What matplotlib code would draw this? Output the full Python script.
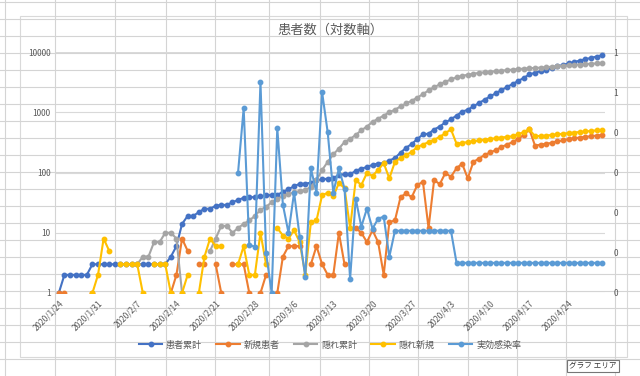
import numpy as np
import matplotlib
matplotlib.use("Agg")
import matplotlib.pyplot as plt
from matplotlib.lines import Line2D
from matplotlib.patches import Rectangle

plt.rcParams['font.family'] = ['Noto Sans CJK JP', 'DejaVu Sans']

# --- data (1/24 .. 4/30, one value per day) ---
nan = np.nan
tick_labels = ["2020/1/24", "2020/1/31", "2020/2/7", "2020/2/14", "2020/2/21",
               "2020/2/28", "2020/3/6", "2020/3/13", "2020/3/20", "2020/3/27",
               "2020/4/3", "2020/4/10", "2020/4/17", "2020/4/24"]

kanja_ruikei = [1, 2, 2, 2, 2, 2, 3, 3, 3, 3, 3, 3, 3, 3, 3, 3, 3, 3, 3, 3,
                4, 6, 14, 19, 19, 22, 25, 25, 28, 29, 29, 32, 35, 38, 39, 39, 40, 42, 42, 43,
                47, 53, 59, 65, 65, 68, 74, 77, 79, 81, 91, 94, 94, 106, 116, 123, 134, 141, 143, 158,
                174, 213, 258, 297, 359, 429, 441, 516, 580, 678, 763, 881, 1021, 1101, 1251, 1421, 1616, 1831, 2066, 2331,
                2621, 2941, 3301, 3721, 4241, 4521, 4811, 5111, 5421, 5751, 6091, 6451, 6821, 7201, 7591, 7991, 8401, 8821]

shinki = [1, 1, nan, nan, nan, nan, 1, nan, nan, nan, nan, nan, nan, nan, nan, nan, nan, nan, nan, nan,
          1, 2, 8, 5, nan, 3, 3, nan, 3, 1, nan, 3, 3, 3, 1, nan, 1, 2, nan, 1,
          4, 6, 6, 6, nan, 3, 6, 3, 2, 2, 10, 3, nan, 12, 10, 7, 11, 7, 2, 15,
          16, 39, 45, 39, 62, 70, 12, 75, 64, 98, 85, 118, 140, 80, 150, 170, 195, 215, 235, 265,
          290, 320, 360, 420, 520, 280, 290, 300, 310, 330, 340, 360, 370, 380, 390, 400, 410, 420]

kakure_ruikei = [nan, nan, nan, nan, nan, nan, nan, nan, nan, nan, nan, nan, nan, nan, 3, 4, 4, 7, 7, 10,
                 10, 8, 1, nan, nan, nan, nan, 5, 8, 13, 13, 10, 12, 14, 16, 19, 24, 27, 32, 36,
                 41, 44, 47, 49, 51, 58, 75, 110, 150, 200, 250, 320, 360, 420, 500, 580, 690, 780, 880, 1000,
                 1100, 1250, 1400, 1550, 1750, 2000, 2300, 2600, 2900, 3200, 3500, 3800, 4000, 4200, 4350, 4500, 4600, 4700, 4800, 4900,
                 5000, 5100, 5200, 5300, 5350, 5450, 5500, 5600, 5700, 5800, 5900, 6000, 6100, 6200, 6300, 6400, 6450, 6500]

kakure_shinki = [nan, nan, nan, nan, nan, nan, 1, 2, 8, 5, nan, 3, 3, 3, 3, 1, nan, 3, 3, 3,
                 1, nan, 1, 2, nan, 1, 4, 8, 6, 6, nan, nan, 3, 6, 2, 2, 10, 3, nan, 12,
                 9, 8, 11, 7, 2, 15, 16, 42, 46, 40, 67, 55, 12, 75, 62, 98, 88, 110, 143, 80,
                 150, 175, 195, 220, 265, 290, 320, 350, 390, 450, 520, 300, 310, 320, 330, 340, 350, 360, 370, 380,
                 390, 400, 430, 470, 520, 400, 405, 410, 420, 430, 440, 450, 460, 470, 480, 490, 500, 510]

jikkou = [nan] * 32 + [0.30, 0.46, 0.12, 0.115, 0.525, 0.10, 0.0, 0.41,
                       0.22, 0.15, 0.25, 0.14, 0.04, 0.31, 0.25, 0.50, 0.40, 0.25, 0.31, 0.26,
                       0.035, 0.235, 0.165, 0.21, 0.16, 0.185, 0.19, 0.09,
                       0.155, 0.155, 0.155, 0.155, 0.155, 0.155, 0.155, 0.155, 0.155, 0.155, 0.155] + [0.075] * 27

right_labels = ["0", "0", "0", "0", "0", "1", "1"]

days = np.arange(len(kanja_ruikei))

W, H = 640, 376
fig = plt.figure(figsize=(6.4, 3.76), dpi=100)


def fx(x):
    return x / W


def fy(y):
    return 1 - y / H


# --- excel sheet cells behind the chart ---
cell = '#D4D4D4'
for x in [5, 55, 115, 166, 215, 269, 320, 369, 418, 468, 517, 566, 615]:
    fig.add_artist(Line2D([fx(x), fx(x)], [0, 1], color=cell, lw=0.8))
for y in range(2, H, 17):
    fig.add_artist(Line2D([0, 1], [fy(y), fy(y)], color=cell, lw=0.8))
fig.add_artist(Rectangle((fx(20), fy(357)), fx(627) - fx(20), fy(16) - fy(357),
                         facecolor='white', edgecolor='#D9D9D9', lw=0.8, zorder=1))

ax = fig.add_axes([fx(56), fy(293), fx(605) - fx(56), fy(52) - fy(293)], zorder=2)
ax.patch.set_alpha(0)

colors = ['#4472C4', '#ED7D31', '#A5A5A5', '#FFC000', '#5B9BD5']
names = ['患者累計', '新規患者', '隠れ累計', '隠れ新規', '実効感染率']
series = [kanja_ruikei, shinki, kakure_ruikei, kakure_shinki]

for vals, c, n in zip(series, colors, names):
    ax.plot(days, np.array(vals, dtype=float), color=c, lw=1.5, marker='o',
            markersize=3.2, label=n, zorder=3)

ax.set_yscale('log')
ax.set_ylim(1, 10000)
ax.set_yticks([1, 10, 100, 1000, 10000])
ax.set_yticklabels(['1', '10', '100', '1000', '10000'])
ax.minorticks_off()
ax.set_xlim(-0.5, len(days) - 0.5)
ax.set_xticks(days[::7])
ax.set_xticklabels(tick_labels, rotation=45, ha='right', rotation_mode='anchor')
ax.grid(axis='y', color='#D9D9D9', lw=0.8)
ax.set_axisbelow(True)
for s in ax.spines.values():
    s.set_visible(False)
ax.tick_params(length=0, labelsize=6, colors='#595959', pad=4)

ax2 = ax.twinx()
ax2.plot(days, np.array(jikkou, dtype=float), color=colors[4], lw=1.5, marker='o',
         markersize=3.2, label=names[4])
ax2.set_ylim(0, 0.6)
ax2.set_yticks(np.linspace(0, 0.6, 7))
ax2.set_yticklabels(right_labels)
for s in ax2.spines.values():
    s.set_visible(False)
ax2.tick_params(length=0, labelsize=6, colors='#595959', pad=6)

fig.text(fx(330), fy(30), '患者数（対数軸）', ha='center', va='center',
         fontsize=9.5, color='#595959')

handles = [Line2D([], [], color=c, lw=1.5, marker='o', markersize=3.2) for c in colors]
leg = fig.legend(handles, names, loc='center', bbox_to_anchor=(fx(330), fy(345)),
                 ncol=5, frameon=False, fontsize=6.5, handlelength=2.6,
                 columnspacing=1.6, handletextpad=0.4)
for t in leg.get_texts():
    t.set_color('#595959')

fig.text(fx(593), fy(366), 'グラフ エリア', ha='center', va='center', fontsize=5.5,
         color='#333333',
         bbox=dict(boxstyle='square,pad=0.3', facecolor='white', edgecolor='#767676', lw=0.8))

fig.savefig('out.png', dpi=100)
